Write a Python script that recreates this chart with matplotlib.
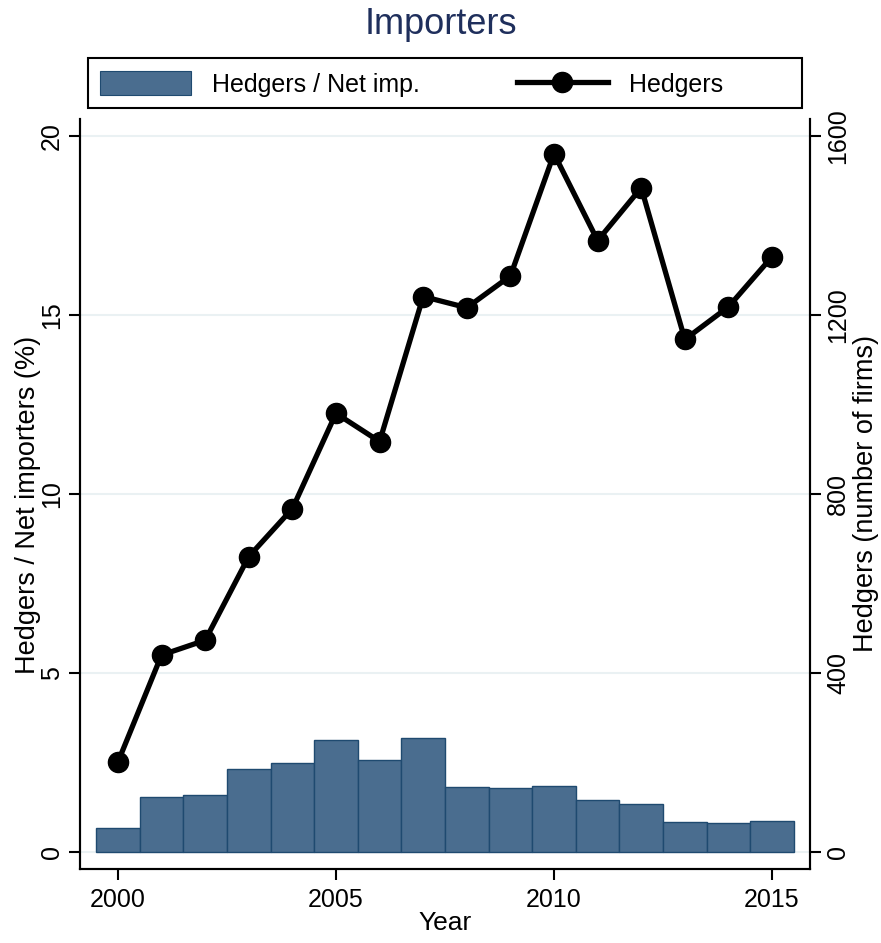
import matplotlib
matplotlib.use("Agg")
import matplotlib.pyplot as plt
from matplotlib.patches import Patch, Rectangle
from matplotlib.lines import Line2D

plt.rcParams['font.family'] = ['Liberation Sans', 'DejaVu Sans']

years = list(range(2000, 2016))
share_pct = [0.67, 1.53, 1.59, 2.32, 2.48, 3.12, 2.57, 3.18, 1.81, 1.79, 1.84, 1.45, 1.34, 0.84, 0.81, 0.86]
hedgers = [201, 440, 473, 660, 767, 980, 917, 1241, 1216, 1287, 1560, 1366, 1484, 1145, 1218, 1330]

left_ticks = [0, 5, 10, 15, 20]
right_ticks = [0, 400, 800, 1200, 1600]
x_ticks = [2000, 2005, 2010, 2015]

bar_color = '#4a6d8f'
bar_edge = '#1f4a70'
grid_color = '#eaf1f3'
title_color = '#1f2f5c'

fig = plt.figure(figsize=(8.81, 9.43), dpi=100)
ax = fig.add_axes([80/881, 1-869/943, 730/881, 750/943])

ylo, yhi = -0.475, 20.47
ax.set_ylim(ylo, yhi)
ax.set_xlim(1999.13, 2015.87)

for t in left_ticks:
    ax.axhline(t, color=grid_color, lw=1.5, zorder=0)

ax.bar(years, share_pct, width=1.0, color=bar_color, edgecolor=bar_edge, linewidth=1.0, zorder=2)

ax2 = ax.twinx()
ax2.set_ylim(ylo*80, yhi*80)
ax2.plot(years, hedgers, color='black', lw=3.8, marker='o', markersize=14.5, zorder=3)

for a in (ax, ax2):
    a.spines['top'].set_visible(False)
    for s in ('left', 'right', 'bottom'):
        a.spines[s].set_linewidth(1.5)

ax.set_yticks(left_ticks)
ax.set_yticklabels([str(t) for t in left_ticks], rotation=90, va='center')
ax2.set_yticks(right_ticks)
ax2.set_yticklabels([str(t) for t in right_ticks], rotation=90, va='center')
ax.set_xticks(x_ticks)
ax.tick_params(axis='both', labelsize=18, length=8, width=1.5, direction='out')
ax2.tick_params(axis='y', labelsize=18, length=8, width=1.5, direction='out')
ax.tick_params(axis='x', pad=6)

ax.set_xlabel('Year', fontsize=19, labelpad=-1)
ax.set_ylabel('Hedgers / Net importers (%)', fontsize=19.5, labelpad=-1)
ax.yaxis.label.set_y(0.485)
ax2.set_ylabel('Hedgers (number of firms)', fontsize=19.5, labelpad=2)

fig.text(0.5, 1-24/943, 'Importers', ha='center', va='center', fontsize=26, color=title_color)

# legend frame
fig.patches.append(Rectangle((88/881, 1-108/943), 714/881, 50/943, transform=fig.transFigure,
                             facecolor='white', edgecolor='black', linewidth=1.5, zorder=1))

handles = [Patch(facecolor=bar_color, edgecolor=bar_edge, linewidth=0.8),
           Line2D([0], [0], color='black', lw=3.8, marker='o', markersize=14.5)]
leg = fig.legend(handles, ['Hedgers / Net imp.', 'Hedgers'], ncol=2,
                 loc='center left', bbox_to_anchor=(100/881, 1-84/943),
                 fontsize=18, frameon=False, handlelength=3.64, handleheight=1.1,
                 handletextpad=0.84, borderaxespad=0, borderpad=0, columnspacing=3.88)

fig.savefig('out.png', dpi=100, facecolor='white')
